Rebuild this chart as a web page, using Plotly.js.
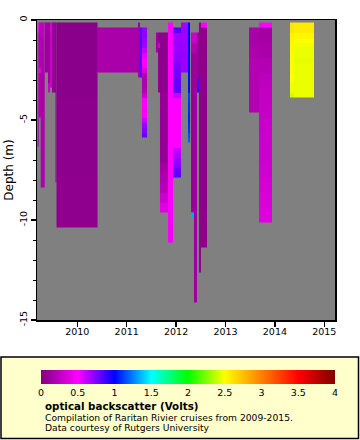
<!DOCTYPE html>
<html>
<head>
<meta charset="utf-8">
<script src="https://cdn.plot.ly/plotly-3.0.1.min.js"></script>
<style>html,body{margin:0;padding:0;background:#fff;}#chart{width:360px;height:440px;}</style>
</head>
<body>
<div id="chart"></div>
<script>
// x tick years
const yearTicks = [2010, 2011, 2012, 2013, 2014, 2015];
const yearTickText = ['2010', '2011', '2012', '2013', '2014', '2015'];
const depthTicks = [0, -5, -10, -15];
const depthTickText = ['0', '-5', '-10', '-15'];
const cbTicks = [0, 0.5, 1, 1.5, 2, 2.5, 3, 3.5, 4];
const cbTickText = ['0', '0.5', '1', '1.5', '2', '2.5', '3', '3.5', '4'];

// profiles: time span (decimal year), depth span (m), backscatter values top->bottom (Volts)
const colStart = [2009.198, 2009.225, 2009.259, 2009.346, 2009.407, 2009.447, 2009.488, 2009.559, 2009.579, 2010.399,
  2011.229, 2011.269, 2011.310, 2011.593, 2011.634, 2011.674, 2011.836, 2011.937, 2012.099, 2012.241,
  2012.302, 2012.302, 2012.362, 2012.423, 2012.463, 2012.504, 2012.504, 2013.476, 2013.678, 2013.678,
  2014.306, 2014.387];
const colEnd = [2009.225, 2009.259, 2009.346, 2009.407, 2009.447, 2009.488, 2009.559, 2009.579, 2010.399, 2011.229,
  2011.269, 2011.310, 2011.411, 2011.634, 2011.674, 2011.836, 2011.937, 2012.099, 2012.241, 2012.281,
  2012.362, 2012.362, 2012.423, 2012.463, 2012.504, 2012.625, 2012.625, 2013.678, 2013.941, 2013.941,
  2014.387, 2014.792];
const colTop = [-0.125, -0.125, -0.125, -0.125, -0.125, -0.125, -0.125, -0.125, -0.125, -0.375,
  -0.125, -0.375, -0.375, -0.625, -0.625, -0.625, -0.125, -0.375, -0.125, -0.125,
  -0.625, -9.625, -0.625, -0.625, -0.125, -0.125, -0.375, -0.375, -0.125, -0.375,
  -0.125, -0.125];
const colBottom = [-6.325, -4.875, -8.375, -2.625, -3.625, -3.375, -3.625, -8.125, -10.375, -2.625,
  -2.875, -2.875, -5.875, -1.625, -3.625, -9.625, -11.125, -7.875, -2.625, -6.125,
  -9.625, -9.875, -14.125, -3.625, -12.625, -0.375, -11.375, -4.625, -0.375, -10.125,
  -3.875, -3.875];
const colValues = [
  [0.45, 0.2, 0.17, 0.17, 0.18, 0.18, 0.17, 0.17, 0.16, 0.16, 0.16, 0.16],
  [0.3, 0.22, 0.2, 0.2, 0.2, 0.2, 0.2, 0.2, 0.2, 0.45, 0.2, 0.2, 0.2, 0.2, 0.2, 0.2, 0.2, 0.2, 0.2],
  [0.25, 0.2, 0.18, 0.17, 0.17, 0.17, 0.17, 0.17, 0.17, 0.18, 0.18],
  [0.14, 0.12, 0.12, 0.12, 0.12],
  [0.12, 0.12, 0.12, 0.12, 0.12, 0.12, 0.3],
  [0.35, 0.3, 0.3, 0.3, 0.3, 0.3],
  [0.1, 0.08, 0.08, 0.08, 0.08, 0.08, 0.08],
  [0.06, 0.06, 0.06, 0.06, 0.06, 0.06, 0.06, 0.06],
  [0.04, 0.04, 0.04, 0.05, 0.05, 0.05, 0.06, 0.06],
  [0.16, 0.16, 0.16],
  [0.13, 0.13, 0.13, 0.13, 0.13],
  [0.8, 0.85, 0.8, 0.82, 0.8],
  [0.72, 0.72, 0.7, 0.68, 0.62, 0.55, 0.5, 0.5, 0.35, 0.2, 0.18, 0.18, 0.2, 0.3, 0.5, 0.5, 0.48, 0.5, 0.6, 0.7, 0.75, 0.8],
  [0.13, 0.13],
  [0.06, 0.06, 0.3, 0.06, 0.06, 0.06, 0.06, 0.06, 0.06, 0.06, 0.06, 0.06],
  [0.05, 0.05, 0.05, 0.05, 0.05, 0.05, 0.08, 0.08, 0.08, 0.08, 0.08, 0.08, 0.08, 0.14, 0.18, 0.22, 0.3, 0.38],
  [0.5, 0.5, 0.5, 0.5, 0.5, 0.5, 0.5, 0.5, 0.5, 0.48, 0.46],
  [0.84, 0.69, 0.69, 0.7, 0.7, 0.72, 0.72, 0.76, 0.77, 0.77, 0.81, 0.82, 0.81, 0.6, 0.5, 0.5, 0.5, 0.5, 0.5, 0.5, 0.5, 0.5, 0.5, 0.5, 0.62, 0.66, 0.7, 0.73, 0.81, 0.82],
  [0.68, 0.69, 0.69, 0.7, 0.7, 0.7, 0.71, 0.7, 0.7, 0.7],
  [1.0, 1.0, 1.0, 1.0, 1.0, 1.0, 1.02, 1.02, 1.02, 1.02, 1.02, 1.02, 1.02, 1.02, 1.12, 1.1, 1.08, 1.08, 1.06, 1.06, 1.08, 1.1, 1.15, 1.18],
  [0.3, 0.2, 0.1, 0.1, 0.09, 0.09, 0.09, 0.09, 0.09, 0.1, 0.1, 0.1, 0.1, 0.1, 0.1, 0.1, 0.1, 0.1],
  [1.33],
  [0.3, 0.2, 0.12, 0.12, 0.12, 0.12, 0.12, 0.12, 0.12, 0.12, 0.12, 0.12, 0.12, 0.12, 0.12, 0.12, 0.12, 0.12, 0.12, 0.12, 0.12, 0.12, 0.12, 0.12, 0.12, 0.12, 0.12],
  [0.12, 0.12, 0.12, 0.1, 0.1, 0.1, 0.1, 0.1, 0.1, 0.85, 0.85, 0.9],
  [0.05, 0.05, 0.05, 0.05, 0.05, 0.05, 0.05, 0.05, 0.05, 0.05, 0.05, 0.05, 0.05, 0.05, 0.05, 0.05, 0.05, 0.05, 0.05, 0.05, 0.05, 0.05, 0.05, 0.05, 0.05],
  [0.5],
  [0.05, 0.05, 0.05, 0.05, 0.05, 0.05, 0.05, 0.05, 0.05, 0.05, 0.05, 0.05, 0.05, 0.05, 0.05, 0.05, 0.05, 0.05, 0.05, 0.05, 0.05, 0.05],
  [0.16, 0.16, 0.16, 0.17, 0.18, 0.18, 0.2, 0.21, 0.21, 0.2, 0.2, 0.2, 0.2, 0.2, 0.2, 0.2, 0.2],
  [0.5],
  [0.14, 0.16, 0.2, 0.24, 0.26, 0.27, 0.29, 0.3, 0.3, 0.31, 0.33, 0.35, 0.37],
  [2.6, 2.6, 2.55, 2.54, 2.53, 2.53, 2.52, 2.52, 2.52, 2.52, 2.5, 2.5, 2.47, 2.47, 2.4],
  [2.58, 2.58, 2.53, 2.51, 2.47, 2.46, 2.46, 2.45, 2.46, 2.46, 2.46, 2.46, 2.46, 2.46, 2.46]
];

const colorStops = [0, 0.125, 0.25, 0.375, 0.5, 0.625, 0.75, 0.875, 1];
const colorHex = ['#800080', '#ff00ff', '#0000ff', '#00ffff', '#00ff00', '#ffff00', '#ff8000', '#ff0000', '#800000'];

const FONT = 'DejaVu Sans, Verdana, sans-serif';

const traces = colValues.map(function (vals, i) {
  const n = vals.length;
  const top = colTop[i], bot = colBottom[i];
  const yEdges = [];
  const z = [];
  for (let k = n; k >= 0; k--) yEdges.push(top + (bot - top) * k / n);
  for (let k = n - 1; k >= 0; k--) z.push([vals[k]]);
  return {
    type: 'heatmap',
    x: [colStart[i], colEnd[i]],
    y: yEdges,
    z: z,
    coloraxis: 'coloraxis',
    zsmooth: false,
    hoverinfo: 'skip'
  };
});

const L = 37, R = 25, T = 20, B = 120, W = 360, H = 440;
const pw = W - L - R, ph = H - T - B;
const px2x = p => (p - L) / pw;
const py2y = p => (H - B - p) / ph;

const layout = {
  width: W, height: H,
  margin: {l: L, r: R, t: T, b: B, pad: 0},
  paper_bgcolor: '#ffffff',
  plot_bgcolor: '#808080',
  font: {family: FONT, size: 9.5, color: '#000'},
  showlegend: false,
  xaxis: {
    range: [2009.184, 2015.217],
    tickvals: yearTicks, ticktext: yearTickText,
    ticks: 'outside', ticklen: 5, tickwidth: 1.5, tickcolor: '#000',
    ticklabelstandoff: -3,
    showline: true, mirror: true, linecolor: '#000', linewidth: 1.5,
    showgrid: false, zeroline: false,
    tickfont: {family: FONT, size: 9.5, color: '#000'}
  },
  yaxis: {
    range: [-15, 0],
    tickvals: depthTicks, ticktext: depthTickText,
    ticks: 'outside', ticklen: 5, tickwidth: 1.5, tickcolor: '#000',
    minor: {dtick: 1, ticks: 'outside', ticklen: 3, tickwidth: 1, tickcolor: '#000', showgrid: false},
    tickangle: -90,
    showline: true, mirror: true, linecolor: '#000', linewidth: 1.5,
    showgrid: false, zeroline: false,
    tickfont: {family: FONT, size: 9.5, color: '#000'},
    title: {text: 'Depth (m)', font: {family: FONT, size: 12, color: '#000'}, standoff: 1}
  },
  coloraxis: {
    cmin: 0, cmax: 4,
    colorscale: colorStops.map((s, i) => [s, colorHex[i]]),
    colorbar: {
      orientation: 'h',
      x: px2x(41), xanchor: 'left',
      y: py2y(370), yanchor: 'top',
      len: 294, lenmode: 'pixels',
      thickness: 13.5, thicknessmode: 'pixels',
      outlinewidth: 0, xpad: 0, ypad: 0,
      tickvals: cbTicks, ticktext: cbTickText,
      ticks: '',
      tickfont: {family: FONT, size: 9.5, color: '#000'},
      bgcolor: 'rgba(0,0,0,0)'
    }
  },
  shapes: [{
    type: 'rect', xref: 'paper', yref: 'paper', layer: 'below',
    x0: px2x(1), x1: px2x(358.5), y0: py2y(357), y1: py2y(438.5),
    fillcolor: '#ffffcc', line: {color: '#000', width: 1.5}
  }],
  annotations: [
    {text: '<b>optical backscatter (Volts)</b>', xref: 'paper', yref: 'paper', x: px2x(42.5), y: py2y(406),
      xanchor: 'left', yanchor: 'middle', showarrow: false, font: {family: FONT, size: 10.3, color: '#000'}},
    {text: 'Compilation of Raritan Rivier cruises from 2009-2015.', xref: 'paper', yref: 'paper', x: px2x(42.5), y: py2y(417.5),
      xanchor: 'left', yanchor: 'middle', showarrow: false, font: {family: FONT, size: 9.2, color: '#000'}},
    {text: 'Data courtesy of Rutgers University', xref: 'paper', yref: 'paper', x: px2x(42.5), y: py2y(428),
      xanchor: 'left', yanchor: 'middle', showarrow: false, font: {family: FONT, size: 9.2, color: '#000'}}
  ]
};

Plotly.newPlot('chart', traces, layout, {staticPlot: true, displayModeBar: false});
</script>
</body>
</html>
